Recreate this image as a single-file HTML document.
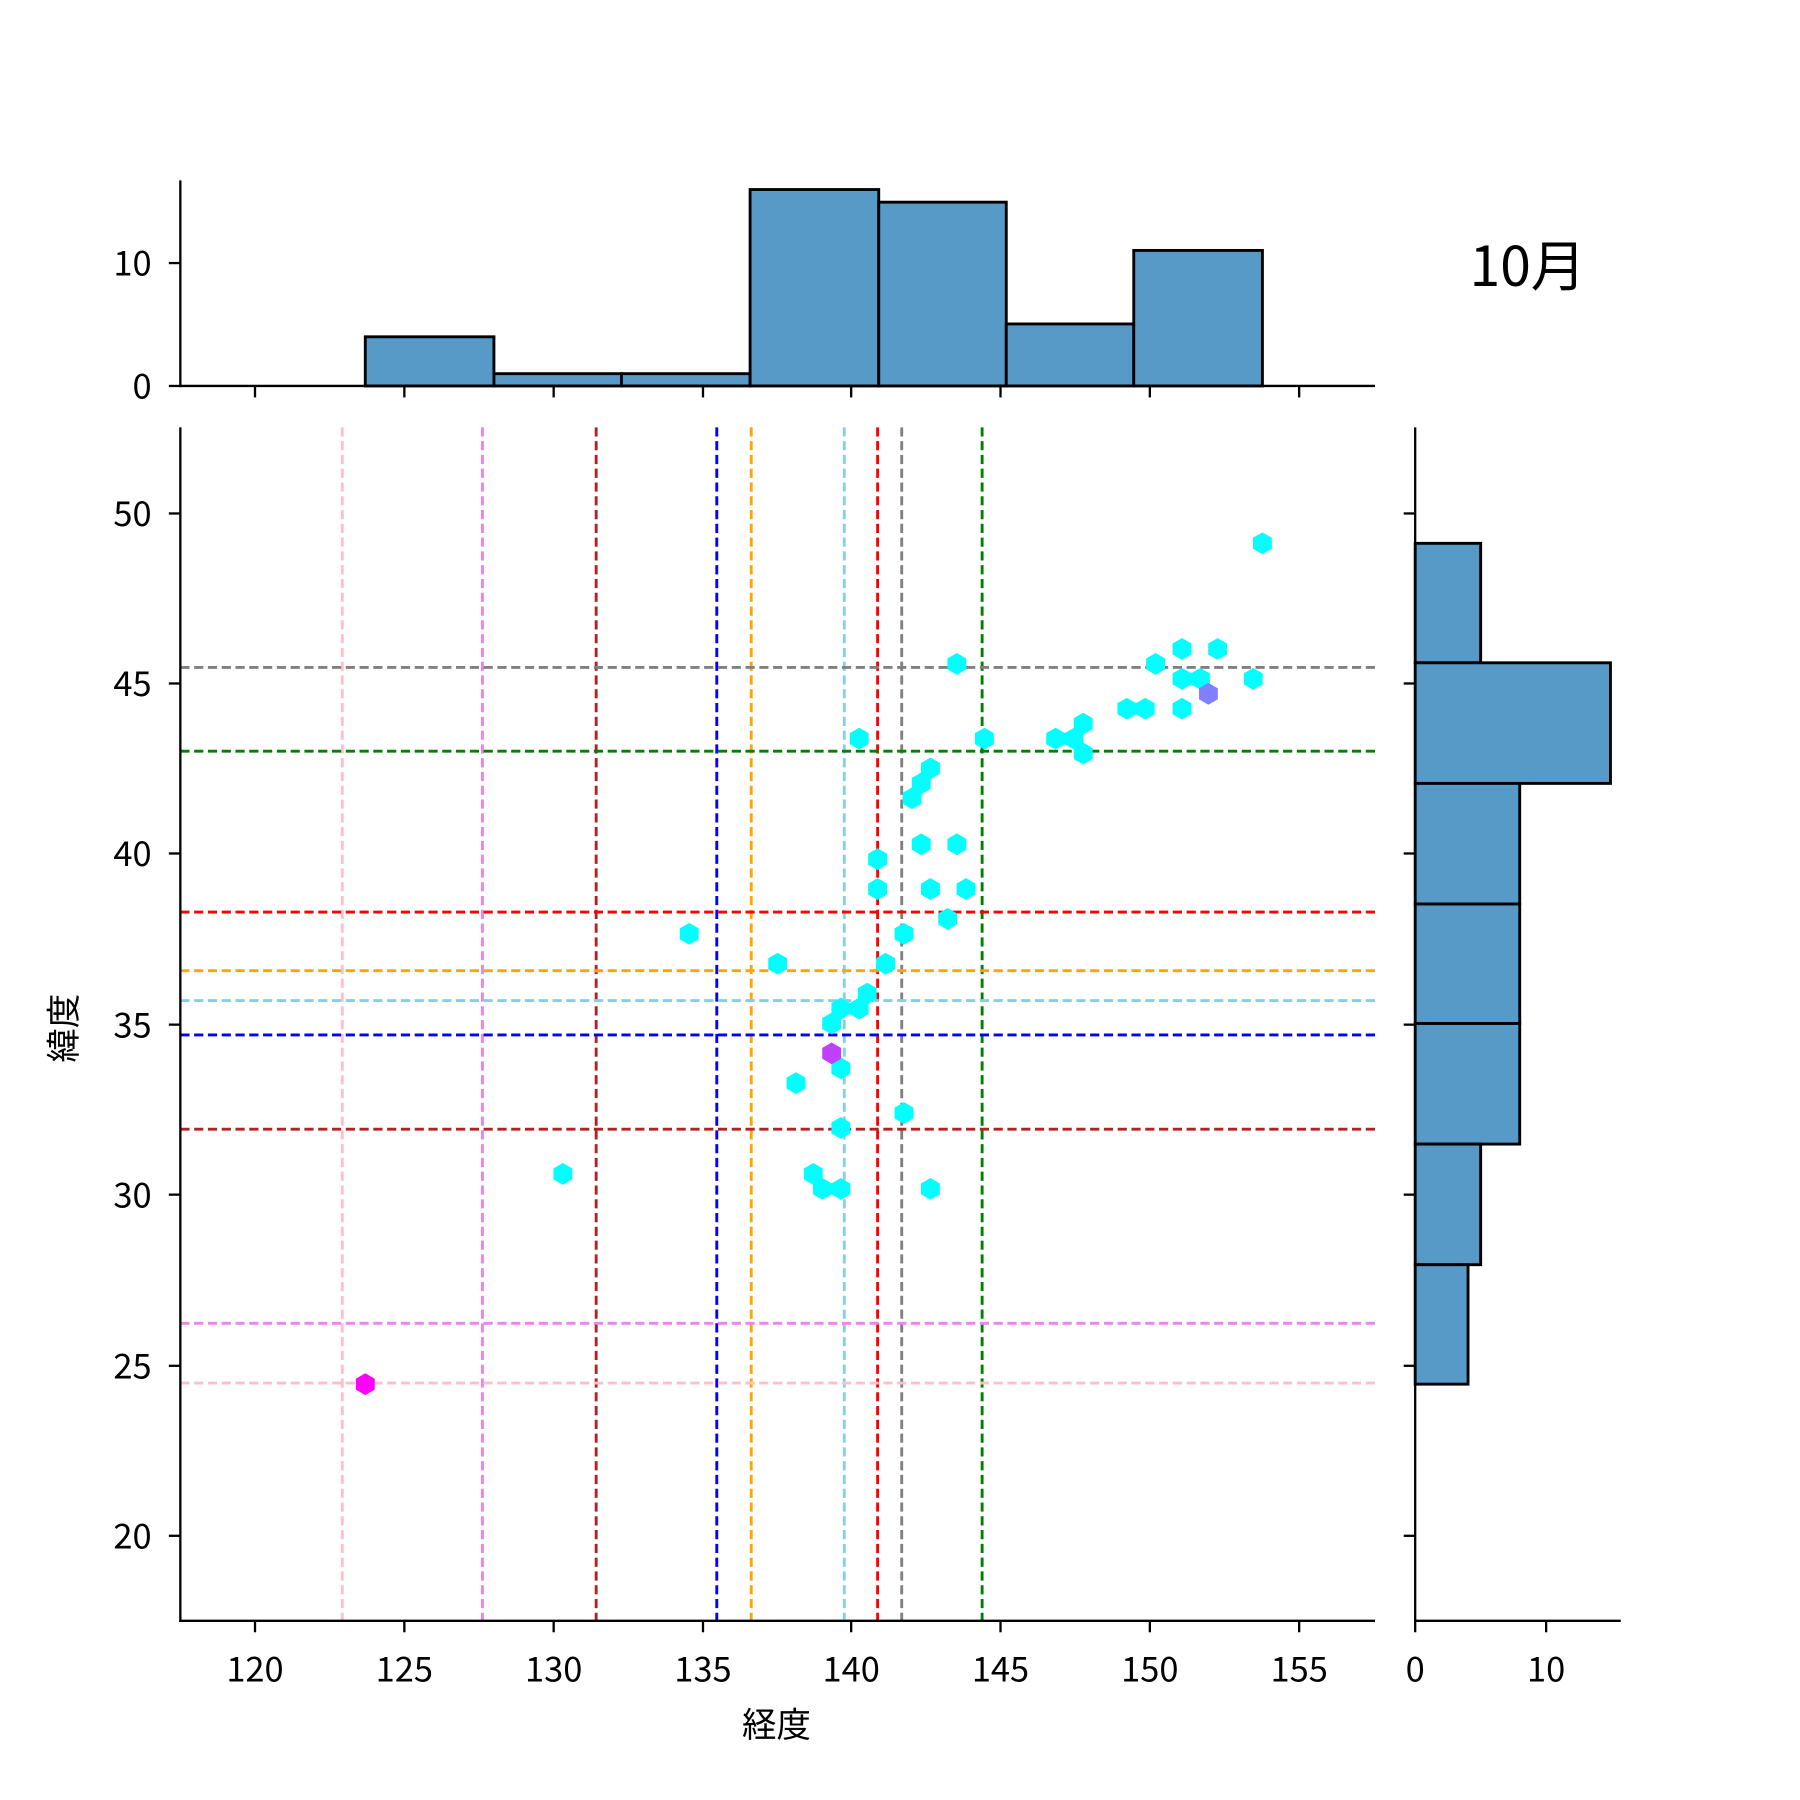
<!DOCTYPE html>
<html><head><meta charset="utf-8"><style>html,body{margin:0;padding:0;background:#fff}svg{display:block}text{font-family:"Noto Sans CJK JP","Liberation Sans",sans-serif;fill:#000}</style></head><body>
<svg width="1800" height="1800" viewBox="0 0 1567 1567" xmlns="http://www.w3.org/2000/svg">
<defs><polygon id="h" points="0,-9.5 8.2,-4.75 8.2,4.75 0,9.5 -8.2,4.75 -8.2,-4.75"/></defs>
<g fill="#5799c7" stroke="#000" stroke-width="2.5">
<rect x="318" y="293.2" width="112" height="42.8"/>
<rect x="430" y="325.3" width="111" height="10.7"/>
<rect x="541" y="325.3" width="112" height="10.7"/>
<rect x="653" y="165" width="112" height="171"/>
<rect x="765" y="176" width="111" height="160"/>
<rect x="876" y="282" width="111" height="54"/>
<rect x="987" y="218" width="112" height="118"/>
</g>
<g stroke="#000" stroke-width="2" fill="none">
<line x1="157" y1="157" x2="157" y2="337"/><line x1="156" y1="336" x2="1197" y2="336"/>
<line x1="147" y1="336" x2="157" y2="336"/><line x1="147" y1="229" x2="157" y2="229"/>
<line x1="222" y1="336" x2="222" y2="346"/><line x1="352" y1="336" x2="352" y2="346"/><line x1="482" y1="336" x2="482" y2="346"/><line x1="612" y1="336" x2="612" y2="346"/><line x1="741" y1="336" x2="741" y2="346"/><line x1="871" y1="336" x2="871" y2="346"/><line x1="1001" y1="336" x2="1001" y2="346"/><line x1="1131" y1="336" x2="1131" y2="346"/>
</g>
<g font-size="30" text-anchor="end"><text x="132" y="347">0</text><text x="132" y="240">10</text></g>
<text x="1330" y="249" font-size="48" text-anchor="middle">10月</text>
<g fill="#5799c7" stroke="#000" stroke-width="2.5">
<rect x="1232" y="473" width="57" height="104"/>
<rect x="1232" y="577" width="170" height="105"/>
<rect x="1232" y="682" width="91" height="105"/>
<rect x="1232" y="787" width="91" height="104"/>
<rect x="1232" y="891" width="91" height="105"/>
<rect x="1232" y="996" width="57" height="105"/>
<rect x="1232" y="1101" width="46" height="104"/>
</g>
<g stroke="#000" stroke-width="2" fill="none">
<line x1="1232" y1="372" x2="1232" y2="1412"/><line x1="1231" y1="1411" x2="1411" y2="1411"/>
<line x1="1232" y1="1411" x2="1232" y2="1421"/><line x1="1346" y1="1411" x2="1346" y2="1421"/>
<line x1="1222" y1="447" x2="1232" y2="447"/><line x1="1222" y1="595" x2="1232" y2="595"/><line x1="1222" y1="743" x2="1232" y2="743"/><line x1="1222" y1="892" x2="1232" y2="892"/><line x1="1222" y1="1040" x2="1232" y2="1040"/><line x1="1222" y1="1189" x2="1232" y2="1189"/><line x1="1222" y1="1337" x2="1232" y2="1337"/>
</g>
<g font-size="30" text-anchor="middle"><text x="1232" y="1464">0</text><text x="1346" y="1464">10</text></g>
<g stroke-width="2.5" stroke-dasharray="8,4" fill="none">
<line x1="298" y1="372" x2="298" y2="1411" stroke="pink"/>
<line x1="420" y1="372" x2="420" y2="1411" stroke="violet"/>
<line x1="519" y1="372" x2="519" y2="1411" stroke="#b22222"/>
<line x1="624" y1="372" x2="624" y2="1411" stroke="#0000ff"/>
<line x1="654" y1="372" x2="654" y2="1411" stroke="orange"/>
<line x1="735" y1="372" x2="735" y2="1411" stroke="skyblue"/>
<line x1="764" y1="372" x2="764" y2="1411" stroke="red"/>
<line x1="785" y1="372" x2="785" y2="1411" stroke="gray"/>
<line x1="855" y1="372" x2="855" y2="1411" stroke="green"/>
<line x1="157" y1="581" x2="1197" y2="581" stroke="gray"/>
<line x1="157" y1="654" x2="1197" y2="654" stroke="green"/>
<line x1="157" y1="794" x2="1197" y2="794" stroke="red"/>
<line x1="157" y1="845" x2="1197" y2="845" stroke="orange"/>
<line x1="157" y1="871" x2="1197" y2="871" stroke="skyblue"/>
<line x1="157" y1="901" x2="1197" y2="901" stroke="#0000ff"/>
<line x1="157" y1="983" x2="1197" y2="983" stroke="#b22222"/>
<line x1="157" y1="1152" x2="1197" y2="1152" stroke="violet"/>
<line x1="157" y1="1204" x2="1197" y2="1204" stroke="pink"/>
</g>
<g fill="#00ffff">
<use href="#h" x="1099" y="473"/><use href="#h" x="833" y="578"/><use href="#h" x="1006" y="578"/><use href="#h" x="1029" y="565"/><use href="#h" x="1060" y="565"/><use href="#h" x="1029" y="591"/><use href="#h" x="1045" y="591"/><use href="#h" x="1091" y="591"/><use href="#h" x="981" y="617"/><use href="#h" x="997" y="617"/><use href="#h" x="1029" y="617"/><use href="#h" x="748" y="643"/><use href="#h" x="857" y="643"/><use href="#h" x="919" y="643"/><use href="#h" x="935" y="643"/><use href="#h" x="943" y="630"/><use href="#h" x="943" y="656"/><use href="#h" x="810" y="669"/><use href="#h" x="802" y="682"/><use href="#h" x="794" y="695"/><use href="#h" x="802" y="735"/><use href="#h" x="833" y="735"/><use href="#h" x="764" y="748"/><use href="#h" x="764" y="774"/><use href="#h" x="810" y="774"/><use href="#h" x="841" y="774"/><use href="#h" x="825" y="800"/><use href="#h" x="787" y="813"/><use href="#h" x="600" y="813"/><use href="#h" x="677" y="839"/><use href="#h" x="771" y="839"/><use href="#h" x="755" y="865"/><use href="#h" x="748" y="878"/><use href="#h" x="732" y="878"/><use href="#h" x="724" y="891"/><use href="#h" x="732" y="930"/><use href="#h" x="693" y="943"/><use href="#h" x="787" y="969"/><use href="#h" x="732" y="982"/><use href="#h" x="490" y="1022"/><use href="#h" x="708" y="1022"/><use href="#h" x="716" y="1035"/><use href="#h" x="732" y="1035"/><use href="#h" x="810" y="1035"/>
</g>
<use href="#h" x="1052" y="604" fill="#8080ff"/>
<use href="#h" x="724" y="917" fill="#c040ff"/>
<use href="#h" x="318" y="1205" fill="#ff00ff"/>
<g stroke="#000" stroke-width="2" fill="none">
<line x1="157" y1="372" x2="157" y2="1412"/><line x1="156" y1="1411" x2="1197" y2="1411"/>
<line x1="222" y1="1411" x2="222" y2="1421"/><line x1="352" y1="1411" x2="352" y2="1421"/><line x1="482" y1="1411" x2="482" y2="1421"/><line x1="612" y1="1411" x2="612" y2="1421"/><line x1="741" y1="1411" x2="741" y2="1421"/><line x1="871" y1="1411" x2="871" y2="1421"/><line x1="1001" y1="1411" x2="1001" y2="1421"/><line x1="1131" y1="1411" x2="1131" y2="1421"/>
<line x1="147" y1="447" x2="157" y2="447"/><line x1="147" y1="595" x2="157" y2="595"/><line x1="147" y1="743" x2="157" y2="743"/><line x1="147" y1="892" x2="157" y2="892"/><line x1="147" y1="1040" x2="157" y2="1040"/><line x1="147" y1="1189" x2="157" y2="1189"/><line x1="147" y1="1337" x2="157" y2="1337"/>
</g>
<g font-size="30" text-anchor="middle">
<text x="222" y="1464">120</text><text x="352" y="1464">125</text><text x="482" y="1464">130</text><text x="612" y="1464">135</text><text x="741" y="1464">140</text><text x="871" y="1464">145</text><text x="1001" y="1464">150</text><text x="1131" y="1464">155</text>
</g>
<g font-size="30" text-anchor="end">
<text x="132" y="458">50</text><text x="132" y="606">45</text><text x="132" y="754">40</text><text x="132" y="903">35</text><text x="132" y="1051">30</text><text x="132" y="1200">25</text><text x="132" y="1348">20</text>
</g>
<text x="676" y="1512" font-size="30" text-anchor="middle">経度</text>
<text transform="translate(66,895) rotate(-90)" font-size="30" text-anchor="middle">緯度</text>
</svg>
</body></html>
